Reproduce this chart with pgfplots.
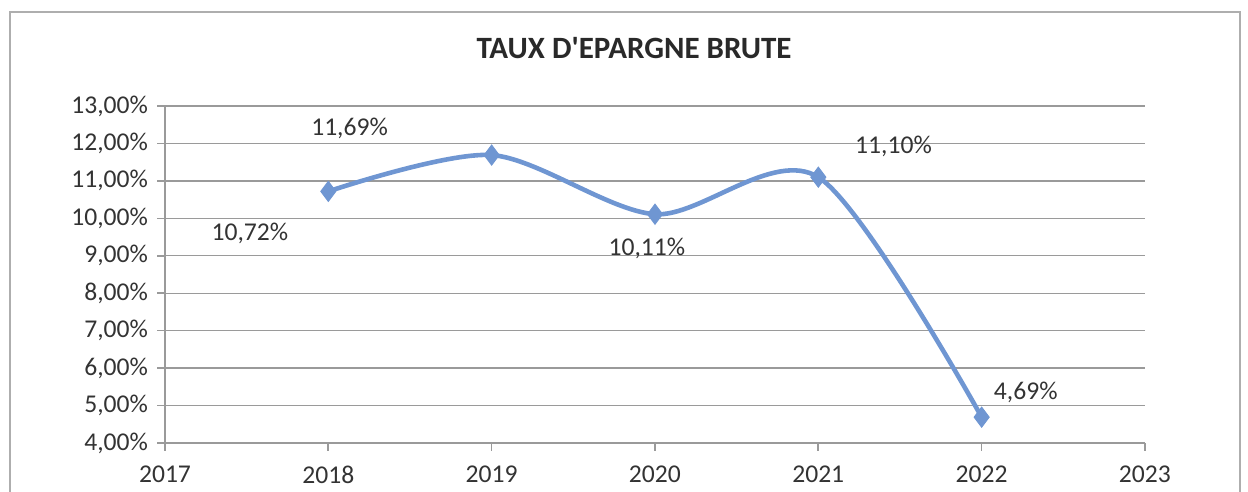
\documentclass[border=0pt]{standalone}
\usepackage{pgfplots}
\pgfplotsset{compat=1.18}
\usepackage{fontspec}
\setmainfont{Carlito}
\newfontfamily\titrefont{Carlito}
\definecolor{serie}{HTML}{6F96D2}
\definecolor{grille}{HTML}{9A9A9A}
\definecolor{texte}{HTML}{333333}

\pgfplotstableread{
annee taux
2018 10.72
2019 11.69
2020 10.11
2021 11.10
2022 4.69
}\taux

\begin{document}
\begin{tikzpicture}
\useasboundingbox (0,0) rectangle (624pt,246pt);
% cadre du graphique (coupé en bas dans la numérisation)
\draw[grille!80, line width=0.8pt] (5pt,0) -- (5pt,240pt) -- (620pt,240pt) -- (620pt,0);
\node[font=\titrefont\fontsize{15.5}{17}\selectfont\bfseries, text=texte!80!black] at (317pt,222pt) {TAUX D'EPARGNE BRUTE};
\begin{axis}[
  at={(82.5pt,24.5pt)}, anchor=south west,
  scale only axis, width=490pt, height=168.5pt,
  xmin=2017, xmax=2023, ymin=4, ymax=13,
  xtick={2017,...,2023}, ytick={4,...,13},
  /pgf/number format/assume math mode=true,
  xticklabel style={/pgf/number format/1000 sep={}},
  yticklabel={\pgfmathprintnumber[fixed,fixed zerofill,precision=2,use comma]{\tick}\%},
  ticklabel style={font=\fontsize{12.8}{14}\selectfont, text=texte},
  yticklabel style={xshift=-1pt},
  xticklabel style={yshift=-4pt},
  axis x line*=bottom, axis y line*=left,
  axis line style={grille, line width=0.8pt, -},
  tick style={grille, line width=0.8pt},
  tick align=outside, major tick length=4pt,
  ymajorgrids, grid style={grille, line width=0.7pt},
  clip=false,
]
\addplot[serie, line width=2.3pt, smooth, tension=0.5,
  mark=diamond*, mark size=5pt, mark options={fill=serie, draw=serie, line width=0.5pt}]
  table[x=annee, y=taux] {\taux};
\begin{scope}[every node/.style={font=\fontsize{12.8}{14}\selectfont, text=texte}]
\node at (axis cs:2018.13,12.41) {11,69\%};
\node at (axis cs:2017.52,9.61) {10,72\%};
\node at (axis cs:2019.95,9.21) {10,11\%};
\node at (axis cs:2021.46,11.91) {11,10\%};
\node at (axis cs:2022.27,5.34) {4,69\%};
\end{scope}
\end{axis}
\end{tikzpicture}
\end{document}
